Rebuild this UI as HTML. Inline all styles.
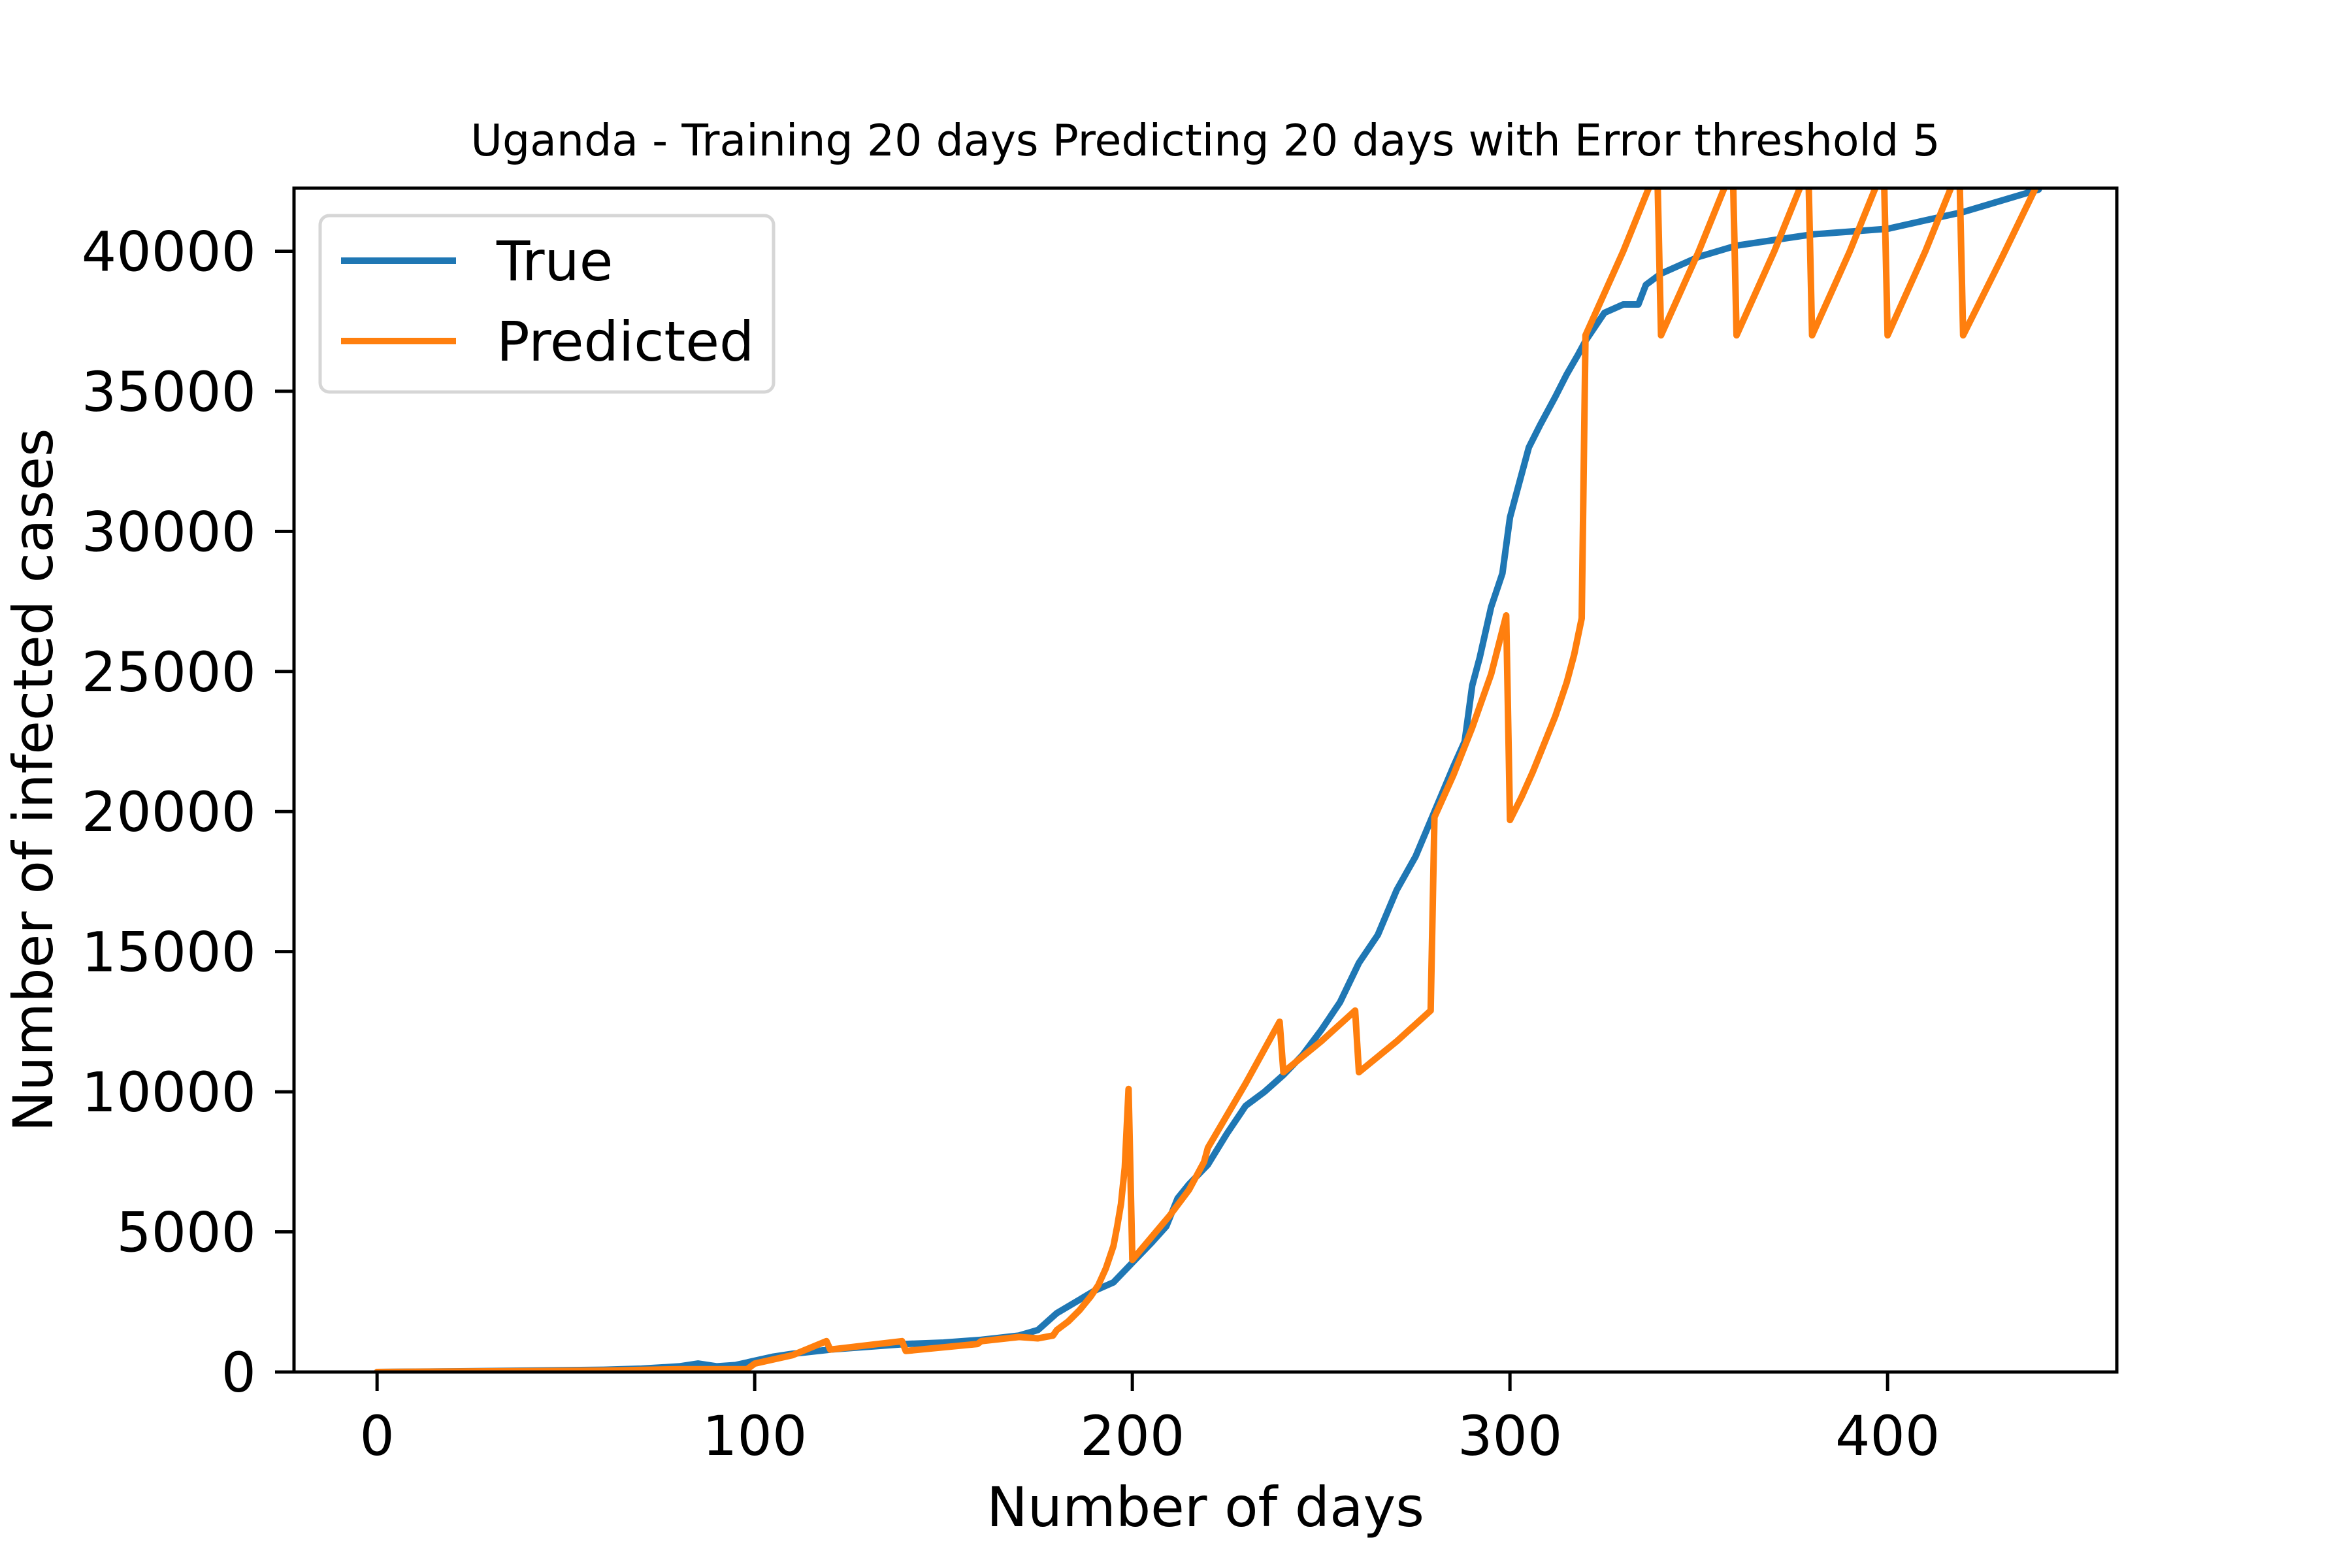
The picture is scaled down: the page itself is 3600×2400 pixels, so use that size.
<!DOCTYPE html>
<html><head><meta charset="utf-8"><style>
html,body{margin:0;padding:0;background:#fff}
svg{display:block}
text{font-family:"DejaVu Sans","Liberation Sans",sans-serif;fill:#000}
</style></head><body>
<svg id="chart" width="3600" height="2400" viewBox="0 0 3600 2400" xmlns="http://www.w3.org/2000/svg">
<rect width="3600" height="2400" fill="#fff"/>
<defs><clipPath id="plotclip"><rect x="450" y="288" width="2790" height="1812"/></clipPath></defs>
<text x="1845" y="238" font-size="66.5" text-anchor="middle">Uganda - Training 20 days Predicting 20 days with Error threshold 5</text>
<g id="series" clip-path="url(#plotclip)"></g>
<g id="axes"></g>
<text x="1845" y="2336" font-size="84" text-anchor="middle">Number of days</text>
<text x="0" y="0" font-size="84" text-anchor="middle" transform="translate(80,1194) rotate(-90)">Number of infected cases</text>
<g>
<rect x="490" y="330" width="694" height="270" rx="14" fill="#fff" fill-opacity="0.8" stroke="#d6d6d6" stroke-width="5"/>
<line x1="522" y1="399" x2="698" y2="399" stroke="#1f77b4" stroke-width="10"/>
<text x="760" y="429" font-size="84">True</text>
<line x1="522" y1="522" x2="698" y2="522" stroke="#ff7f0e" stroke-width="10"/>
<text x="760" y="552" font-size="84">Predicted</text>
</g>
</svg>
<script>
const trueDays=[0,20,40,60,70,80,85,90,95,100,105,110,120,130,140,150,160,170,175,180,185,190,195,200,205,209,212,215,220,225,230,235,240,245,250,255,260,265,270,275,280,285,288,290,292,295,298,300,302,305,308,312,315,318,320,325,330,334,336,340,350,360,370,380,390,400,410,420,430,440];
const trueVals=[0,20,50,80,120,200,300,200,250,400,550,650,800,900,1000,1050,1150,1300,1500,2100,2500,2900,3200,3900,4600,5200,6200,6700,7400,8500,9500,10000,10600,11300,12200,13200,14600,15600,17200,18400,20000,21600,22500,24500,25500,27300,28500,30500,31500,33000,33800,34800,35600,36300,36800,37800,38100,38100,38800,39200,39800,40200,40400,40600,40700,40800,41100,41400,41800,42200];
const predDays=[0,60,80,98,100,110,119,120,139,140,159,160,170,175,179,180,183,186,189,191,193,195,196,197,198,199,200,205,210,215,219,220,230,239,240,250,259,260,270,279,280,285,290,295,299,300,303,306,309,312,315,317,319,320,330,339,340,350,359,360,370,379,380,390,399,400,410,419,420,430,439];
const predVals=[0,50,100,100,300,600,1100,800,1100,750,1000,1100,1250,1200,1300,1500,1800,2200,2700,3100,3700,4500,5200,6000,7300,10100,4000,4800,5600,6500,7500,8000,10300,12500,10700,11800,12900,10700,11800,12900,19800,21300,23000,24900,27000,19700,20500,21400,22400,23400,24600,25600,26900,37000,40000,43000,37000,40000,43000,37000,40000,43000,37000,40000,43000,37000,40000,43000,37000,39700,42200];
const xTicks=[0,100,200,300,400];
const yTicks=[0,5000,10000,15000,20000,25000,30000,35000,40000];
const X0=450,X1=3240,Y0=2100,Y1=288,XMIN=-22,XMAX=460.7,YMIN=0,YMAX=42250;
const sx=d=>X0+(d-XMIN)/(XMAX-XMIN)*(X1-X0);
const sy=v=>Y0-(v-YMIN)/(YMAX-YMIN)*(Y0-Y1);
const NS="http://www.w3.org/2000/svg";
function mk(t,a,p){const e=document.createElementNS(NS,t);for(const k in a)e.setAttribute(k,a[k]);p.appendChild(e);return e;}
const series=document.getElementById('series'),axes=document.getElementById('axes');
function pts(ds,vs){return ds.map((d,i)=>sx(d).toFixed(1)+','+sy(vs[i]).toFixed(1)).join(' ');}
const tl=mk('polyline',{points:pts(trueDays,trueVals),fill:'none',stroke:'#1f77b4','stroke-width':10,'stroke-linejoin':'round','stroke-linecap':'round'},series);


const pl=mk('polyline',{points:pts(predDays,predVals),fill:'none',stroke:'#ff7f0e','stroke-width':10,'stroke-linejoin':'round','stroke-linecap':'round'},series);


const fr=mk('rect',{x:X0,y:Y1,width:X1-X0,height:Y0-Y1,fill:'none',stroke:'#000','stroke-width':5},axes);


xTicks.forEach(t=>{const x=sx(t);
const l=mk('line',{x1:x,y1:Y0,x2:x,y2:Y0+29,stroke:'#000','stroke-width':5},axes);


const tx=mk('text',{x:x,y:Y0+127,'font-size':84,'text-anchor':'middle'},axes);tx.textContent=t;

});
yTicks.forEach(t=>{const y=sy(t);
const l=mk('line',{x1:X0-29,y1:y,x2:X0,y2:y,stroke:'#000','stroke-width':5},axes);


const tx=mk('text',{x:X0-58,y:y+30,'font-size':84,'text-anchor':'end'},axes);tx.textContent=t;

});
</script>
</body></html>
